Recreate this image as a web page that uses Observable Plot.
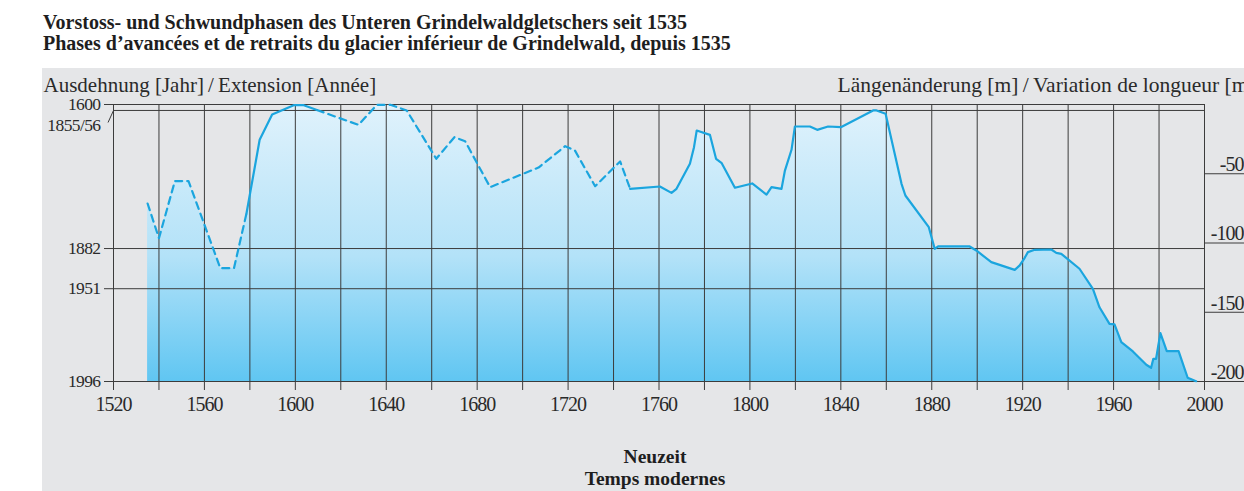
<!DOCTYPE html>
<html>
<head>
<meta charset="utf-8">
<script src="https://cdn.jsdelivr.net/npm/d3@7"></script>
<script src="https://cdn.jsdelivr.net/npm/@observablehq/plot@0.6"></script>
<style>
  html, body { margin: 0; padding: 0; background: #ffffff; overflow: hidden; }
  body { width: 1244px; height: 491px; font-family: "Liberation Serif", "Times New Roman", serif; color: #1e1e1e; }
  #title { height: 68px; box-sizing: border-box; padding: 12px 0 0 43px; font-weight: bold; font-size: 20px; line-height: 21px; white-space: nowrap; }
  #panel { margin-left: 42px; width: 1202px; height: 423px; background: #e5e6e8; overflow: hidden; }
  #panel svg { display: block; }
  [aria-label="x-axis tick label"] text { letter-spacing: -1px; }
  [aria-label="y-axis tick label"] text { letter-spacing: -0.6px; }
  .tight text { letter-spacing: -0.6px; }
  .rtight text { letter-spacing: -1px; }
</style>
</head>
<body>
<div id="title">
  <div>Vorstoss- und Schwundphasen des Unteren Grindelwaldgletschers seit 1535</div>
  <div>Phases d’avancées et de retraits du glacier inférieur de Grindelwald, depuis 1535</div>
</div>
<div id="panel"></div>
<script>
// ---- data ----
const years = [1535, 1540, 1547, 1553, 1567, 1573, 1578.5, 1584.3, 1589.8, 1599.3, 1603.7, 1609.5,
  1627.8, 1635.9, 1641.8, 1649, 1662, 1670, 1674.7, 1685.7, 1707, 1718.7, 1723, 1731.9, 1742.9,
  1747.3, 1760.4, 1765.5, 1767.7, 1773.6, 1775.4, 1776.6, 1782.4, 1785.1, 1787.6, 1793.4, 1801,
  1807.3, 1809.5, 1813.9, 1815.4, 1818.3, 1819.8, 1826.4, 1829.6, 1834.4, 1840, 1854.2, 1855.7,
  1859.7, 1866.7, 1868.4, 1878.7, 1881.3, 1882.8, 1896.7, 1899.6, 1906.2, 1916.5, 1918.7, 1920.9,
  1922.3, 1925.3, 1932.6, 1934.8, 1937, 1945, 1950.9, 1953.8, 1958.2, 1960.4, 1963.4, 1968.5,
  1974.4, 1976.5, 1977.5, 1978.7, 1980.6, 1983.4, 1988.6, 1992.6, 1996.3];
const lengthChange = [-715, -965, -553, -553, -1182, -1182, -787, -255, -72, -5, -5, -40,
  -147, -2, -2, -43, -392, -236, -265, -597, -455, -301, -332, -590, -411,
  -609, -592, -638, -609, -428, -308, -188, -219, -392, -424, -601, -570,
  -650, -597, -609, -477, -327, -159, -159, -183, -159, -164, -43, -43,
  -67, -573, -657, -886, -1042, -1025, -1025, -1054, -1138, -1194, -1162, -1107,
  -1066, -1049, -1047, -1071, -1078, -1186, -1331, -1464, -1584, -1588, -1716, -1783,
  -1879, -1901, -1836, -1836, -1651, -1781, -1781, -1973, -1998];
// style of the segment that starts at each point: "d" = dashed (reconstructed), "s" = solid
const lineStyle = ["d","d","d","d","d","d","s","s","s","s","s","d",
  "d","d","d","d","d","d","d","d","d","d","d","d","d",
  "s","s","s","s","s","s","s","s","s","s","s","s",
  "s","s","s","s","s","s","s","s","s","s","s","s",
  "s","s","s","s","s","s","s","s","s","s","s","s",
  "s","s","s","s","s","s","s","s","s","s","s","s",
  "s","s","s","s","s","s","s","s","s"];

const gridYears = d3.range(1520, 2001, 20);
const labelYears = d3.range(1520, 2001, 40);
const leftLevels = [0, -1040, -1330, -2000];
const leftLabels = ["1600", "1882", "1951", "1996"];
const level185556 = -43;
const label185556 = "1855/56";
const rightTicks = [-500, -1000, -1500, -2000];
const rightTickLabels = ["-500", "-1000", "-1500", "-2000"];
const leftTitle = "Ausdehnung [Jahr]\u2009/\u2009Extension [Année]";
const rightTitle = "Längenänderung [m]\u2009/\u2009Variation de longueur [m]";
const eraLabels = ["Neuzeit", "Temps modernes"];

const xMin = 1520, xMax = 2000, yMin = -2000, yMax = 0;

// ---- build tables ----
const pts = years.map((y, i) => ({year: y, len: lengthChange[i]}));
const segs = [];
let segId = 0;
for (let i = 0; i < years.length - 1; i++) {
  if (i > 0 && lineStyle[i] !== lineStyle[i - 1]) segId++;
  segs.push({seg: segId, style: lineStyle[i], year: years[i], len: lengthChange[i]});
  segs.push({seg: segId, style: lineStyle[i], year: years[i + 1], len: lengthChange[i + 1]});
}
const solid = segs.filter(d => d.style === "s");
const dashed = segs.filter(d => d.style === "d");
const leftMap = new Map(leftLevels.map((v, i) => [v, leftLabels[i]]));
const gridLevels = [...leftLevels, level185556];

const lineColor = "#1ba5de";
const gridColor = "#3c3c3c";

const chart = Plot.plot({
  width: 1202,
  height: 423,
  marginLeft: 71,
  marginRight: 40,
  marginTop: 36,
  marginBottom: 110,
  style: {background: "transparent", fontFamily: "Liberation Serif, Times New Roman, serif", fontSize: "17px", color: "#2a2a2a", overflow: "hidden"},
  x: {domain: [xMin, xMax], label: null},
  y: {domain: [yMin, yMax], label: null},
  marks: [
    () => {
      const defs = d3.create("svg:defs");
      const g = defs.append("linearGradient").attr("id", "glacierFill")
        .attr("x1", 0).attr("y1", 0).attr("x2", 0).attr("y2", 1);
      g.append("stop").attr("offset", "0%").attr("stop-color", "#e0f2fc");
      g.append("stop").attr("offset", "55%").attr("stop-color", "#b3e2f8");
      g.append("stop").attr("offset", "100%").attr("stop-color", "#60c6f2");
      return defs.node();
    },
    Plot.areaY(pts, {x: "year", y1: yMin, y2: "len", fill: "url(#glacierFill)"}),
    Plot.ruleX(gridYears, {x: d => d, y1: yMin, y2: yMax, stroke: gridColor, strokeWidth: 1}),
    Plot.ruleY(gridLevels, {y: d => d, x1: xMin, x2: xMax, stroke: gridColor, strokeWidth: 1}),
    Plot.axisX({ticks: gridYears, tickSize: 9, tickPadding: 6, fontSize: 20, stroke: gridColor,
      tickFormat: d => labelYears.includes(d) ? String(d) : "", label: null}),
    Plot.axisY({ticks: leftLevels, tickSize: 9, tickPadding: 4, fontSize: 17.5, stroke: gridColor,
      tickFormat: d => leftMap.get(d), label: null}),
    Plot.text([label185556], {x: xMin, y: level185556, text: d => d, textAnchor: "end", dx: -13, dy: 15, fontSize: 17.5, className: "tight"}),
    Plot.link([level185556], {x1: xMin - 2.4, y1: d => d - 87, x2: xMin, y2: d => d, stroke: gridColor, strokeWidth: 1}),
    Plot.ruleY(rightTicks, {y: d => d, x1: xMax, x2: xMax + 25, stroke: gridColor, strokeWidth: 1}),
    Plot.text(rightTicks, {x: xMax, y: d => d, text: (d, i) => rightTickLabels[i], textAnchor: "end", dx: 48, dy: -9, fontSize: 20, className: "rtight"}),
    Plot.line(dashed, {x: "year", y: "len", z: "seg", stroke: lineColor, strokeWidth: 2.2, strokeDasharray: "7,5"}),
    Plot.line(solid, {x: "year", y: "len", z: "seg", stroke: lineColor, strokeWidth: 2.2}),
    Plot.text([leftTitle], {frameAnchor: "top-left", text: d => d, textAnchor: "start", lineAnchor: "middle", dx: -70, dy: -19, fontSize: 21}),
    Plot.text([rightTitle], {frameAnchor: "top-right", text: d => d, textAnchor: "start", lineAnchor: "middle", dx: -367, dy: -19, fontSize: 21.5}),
    Plot.text([eraLabels[0]], {frameAnchor: "bottom", text: d => d, lineAnchor: "middle", dx: -4, dy: 75, fontSize: 19.5, fontWeight: "bold", fill: "#1e1e1e"}),
    Plot.text([eraLabels[1]], {frameAnchor: "bottom", text: d => d, lineAnchor: "middle", dx: -4, dy: 97, fontSize: 19.5, fontWeight: "bold", fill: "#1e1e1e"})
  ]
});
document.getElementById("panel").appendChild(chart);
</script>
</body>
</html>
